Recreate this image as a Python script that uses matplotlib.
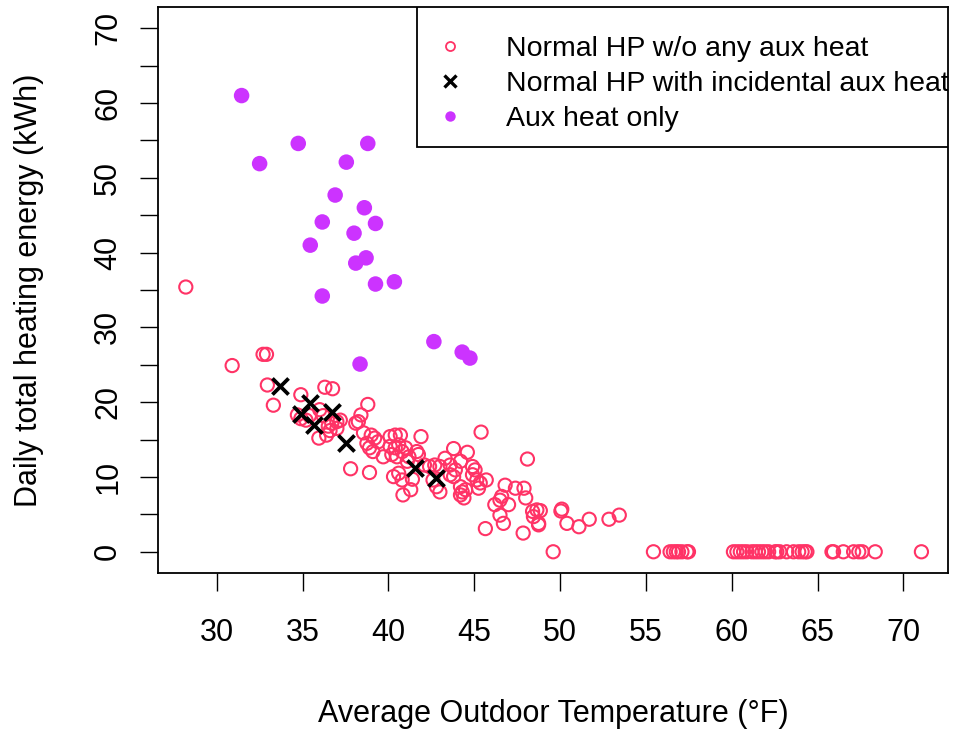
import numpy as np
import matplotlib.pyplot as plt
from matplotlib.lines import Line2D
from matplotlib.patches import Rectangle

plt.rcParams['font.family'] = ['Liberation Sans', 'DejaVu Sans']

# Normal HP w/o any aux heat: (temperature F, kWh)
normal_temp = [
    28.2, 30.9, 32.7, 32.9, 32.95, 33.3, 34.9, 36.3, 36.75,
    34.7, 34.9, 35.2, 35.4, 36.0, 36.2, 36.5, 36.7, 37.0, 37.2,
    35.95, 36.4, 36.6, 37.0, 38.1, 38.25, 38.4, 38.8, 37.8,
    38.55, 39.0, 39.2, 39.4, 38.75, 38.9, 39.1, 39.7, 40.1, 40.4,
    40.7, 40.1, 40.4, 40.6, 40.2, 40.5, 40.8, 41.0, 41.9, 41.65,
    41.75, 41.2, 41.1, 38.9, 40.3, 40.6, 40.8, 41.4, 41.3, 40.85,
    42.1, 42.4, 42.7, 43.0, 43.3, 42.6, 43.0, 42.8, 43.8, 43.6,
    43.9, 43.6, 43.8, 44.2, 44.6, 44.2, 44.3, 44.5, 44.4, 44.2,
    44.9, 45.05, 44.9, 45.15, 45.25, 45.7, 45.35, 45.4, 45.65,
    46.8, 46.6, 47.0, 46.2, 46.5, 46.5, 46.7, 47.4, 47.9, 48.0,
    48.1, 47.85, 48.4, 48.65, 48.85, 48.45, 48.75, 48.75,
    49.6, 50.1, 50.05, 50.4, 51.1, 51.7, 52.85, 53.45,
    55.44, 56.41, 56.6, 56.77, 56.9, 57.1, 57.39, 57.48,
    60.1, 60.3, 60.5, 60.69, 60.89, 61.18, 61.37, 61.56, 61.76,
    61.95, 62.15, 62.53, 62.63, 62.8, 63.2, 63.6, 63.9, 64.1,
    64.28, 64.38, 65.84, 65.93, 66.5, 67.1, 67.4, 67.6, 68.36, 71.05,
]
normal_kwh = [
    35.4, 24.9, 26.4, 26.4, 22.3, 19.6, 21.0, 22.0, 21.8,
    18.3, 17.8, 17.6, 18.2, 19.0, 18.2, 16.8, 17.2, 17.4, 17.6,
    15.2, 15.6, 16.2, 16.5, 17.2, 17.4, 18.3, 19.7, 11.1,
    15.9, 15.6, 15.2, 14.7, 14.5, 13.9, 13.4, 12.7, 15.4, 15.6,
    15.6, 14.1, 13.9, 14.3, 13.0, 12.7, 13.4, 13.9, 15.4, 13.4,
    13.0, 12.7, 12.1, 10.6, 10.05, 10.5, 9.6, 9.7, 8.3, 7.6,
    11.6, 11.4, 11.6, 11.4, 12.5, 9.6, 8.0, 8.7, 13.8, 11.6,
    10.95, 10.3, 10.05, 12.1, 13.3, 8.7, 8.0, 8.3, 7.2, 7.6,
    11.4, 10.95, 10.3, 9.6, 8.5, 9.6, 9.2, 16.0, 3.1,
    8.9, 7.4, 6.3, 6.3, 6.9, 4.9, 3.8, 8.5, 8.5, 7.2,
    12.4, 2.5, 5.4, 5.6, 5.5, 4.7, 3.8, 3.6,
    0.0, 5.7, 5.45, 3.8, 3.35, 4.35, 4.35, 4.9,
    0, 0, 0, 0, 0, 0, 0, 0,
    0, 0, 0, 0, 0, 0, 0, 0, 0,
    0, 0, 0, 0, 0, 0, 0, 0, 0,
    0, 0, 0, 0, 0, 0, 0, 0, 0, 0,
]

# Normal HP with incidental aux heat
incid_temp = [33.7, 35.45, 34.9, 36.7, 35.65, 37.55, 41.55, 42.8]
incid_kwh = [22.1, 19.9, 18.4, 18.7, 17.0, 14.6, 11.2, 9.8]

# Aux heat only
aux_temp = [31.45, 34.75, 38.8, 32.5, 37.55, 36.9, 38.6, 36.15, 39.25, 38.0,
            35.45, 38.7, 38.1, 39.25, 40.35, 36.15, 42.65, 44.3, 44.75, 38.35]
aux_kwh = [61.0, 54.6, 54.6, 51.9, 52.1, 47.7, 46.0, 44.1, 43.9, 42.6,
           41.0, 39.3, 38.6, 35.8, 36.1, 34.2, 28.1, 26.7, 25.9, 25.1]

labels = ['Normal HP w/o any aux heat', 'Normal HP with incidental aux heat', 'Aux heat only']
col_normal = '#FF3366'
col_aux = '#CC33FF'

fig = plt.figure(figsize=(9.55, 7.32), dpi=100)
ax = fig.add_axes([0.1658, 0.2176, 0.8269, 0.7724])

ax.scatter(normal_temp, normal_kwh, s=90, facecolors='none', edgecolors=col_normal, linewidths=1.5, zorder=2)
ax.scatter(incid_temp, incid_kwh, s=135, marker='x', c='black', linewidths=2.7, zorder=3)
ax.scatter(aux_temp, aux_kwh, s=125, c=col_aux, edgecolors='none', zorder=3)

ax.set_xlim(26.6, 72.6)
ax.set_ylim(-2.8, 72.8)
ax.set_xticks(np.arange(30, 71, 5))
ax.set_yticks(np.arange(0, 71, 5))
ax.set_yticklabels([str(v) if v % 10 == 0 else '' for v in range(0, 71, 5)])
ax.tick_params(direction='out', length=13.3, width=1.0, labelsize=22)
ax.tick_params(axis='x', pad=19)
ax.tick_params(axis='y', pad=12)
plt.setp(ax.get_yticklabels(), rotation=90, va='center')
for sp in ax.spines.values():
    sp.set_linewidth(1.3)

ax.set_xlabel('Average Outdoor Temperature (°F)', fontsize=22)
ax.set_ylabel('Daily total heating energy (kWh)', fontsize=22)
ax.xaxis.set_label_coords(0.5, -0.2233)
ax.yaxis.set_label_coords(-0.1454, 0.5)

# legend box (R style, text runs past the frame)
ax.add_patch(Rectangle((0.3276, 0.753), 0.6724, 0.247, transform=ax.transAxes,
                       facecolor='white', edgecolor='black', linewidth=1.3, zorder=4))
handles = [
    Line2D([], [], linestyle='none', marker='o', markersize=6.5, markerfacecolor='none',
           markeredgecolor=col_normal, markeredgewidth=1.3),
    Line2D([], [], linestyle='none', marker='x', markersize=8, color='black', markeredgewidth=2.4),
    Line2D([], [], linestyle='none', marker='o', markersize=7.5, color=col_aux, markeredgewidth=0),
]
leg = ax.legend(handles, labels, loc='center left', bbox_to_anchor=(0.3517, 0.864),
                frameon=False, fontsize=20.5, handlelength=1.0, handletextpad=1.44,
                labelspacing=0.31, borderpad=0, borderaxespad=0)
leg.set_zorder(5)
for t in leg.get_texts():
    t.set_clip_on(True)
    t.set_clip_box(ax.bbox)

fig.savefig('out.png', dpi=100)
